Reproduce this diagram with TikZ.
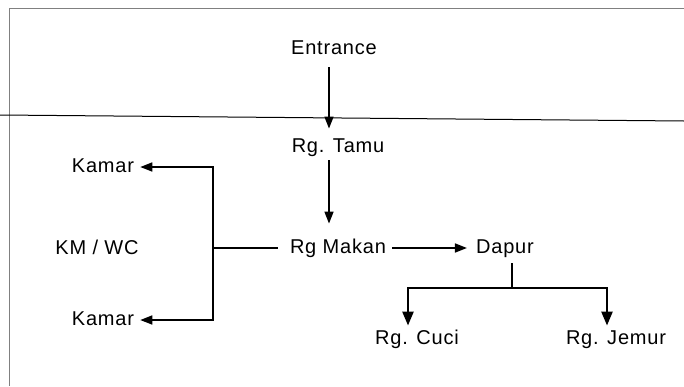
\documentclass[tikz,border=0pt]{standalone}
\usepackage{fontspec}
\setmainfont{Liberation Sans}[LetterSpace=4]
\usetikzlibrary{calc, positioning}
\usetikzlibrary{arrows.meta}

\begin{document}
\begin{tikzpicture}[x=1pt, y=-1pt,
  room/.style={inner sep=0pt, text height=15pt, text depth=4.5pt,
    font=\fontsize{20}{22}\selectfont},
  link/.style={line width=1.6pt},
  flow/.style={link, -{Triangle[length=12pt, width=9pt]}},
  branch/.style={line width=2.5pt, -{Triangle[length=14pt, width=11pt]}}]
\useasboundingbox (0,0) rectangle (684,386);

% sheet frame and entrance line
\draw[gray, line width=0.8pt] (684,8) -- (9,8) -- (9,386);
\draw[line width=1pt] (0,115) -- (684,121);

\node[room] (entrance) at (334,49) {Entrance};
\node[room] (tamu) at (338,147) {Rg. Tamu};
\node[room] (makan) at (338,248) {Rg Makan};
\node[room] (dapur) at (505,248) {Dapur};
\node[room] (kmwc) at (97,249) {KM / WC};
\node[room] (kamarA) at (103,167) {Kamar};
\node[room] (kamarB) at (103,320) {Kamar};
\node[room] (cuci) at (417,339) {Rg. Cuci};
\node[room] (jemur) at (616,339) {Rg. Jemur};

\coordinate (junc) at (213,248);
\coordinate (fork) at (512,288);

\draw[flow, shorten <=8.5pt, shorten >=8.5pt]
  ([xshift=-5pt]entrance.south) -- ([xshift=-9pt]tamu.north);
\draw[flow, shorten <=3.5pt, shorten >=14.5pt]
  ([xshift=-9pt]tamu.south) -- ([xshift=-9pt]makan.north);
\draw[flow, shorten <=6pt, shorten >=9pt] (makan.east) -- (dapur.west);

% left wing
\draw[link, shorten <=12pt] (makan.west) -- (junc);
\draw[flow, shorten >=6pt] (junc) |- (kamarA);
\draw[flow, shorten >=6pt] (junc) |- (kamarB);

% service wing
\draw[link, shorten <=5.5pt] ([xshift=7pt]dapur.south) -- (fork);
\draw[branch, shorten >=3.5pt] (fork) -| ([xshift=-9pt]cuci.north);
\draw[branch, shorten >=3.5pt] (fork) -| ([xshift=-9pt]jemur.north);
\end{tikzpicture}
\end{document}
